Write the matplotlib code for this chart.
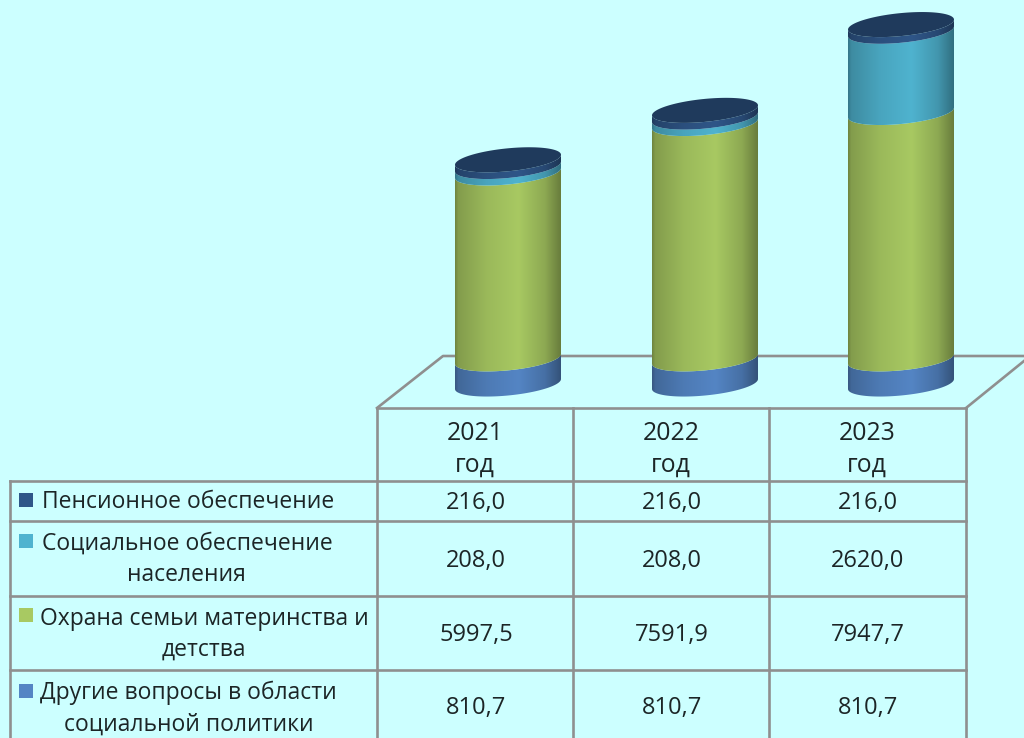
import matplotlib
matplotlib.use("Agg")
import matplotlib.pyplot as plt
from matplotlib.colors import to_rgb
from matplotlib.patches import Polygon
import numpy as np

years = ["2021\nгод", "2022\nгод", "2023\nгод"]
other = [810.7, 810.7, 810.7]
family = [5997.5, 7591.9, 7947.7]
social = [208.0, 208.0, 2620.0]
pension = [216.0, 216.0, 216.0]

series = [other, family, social, pension]
colors = ["#5485C4", "#A8C962", "#4FB3CF", "#2F5688"]
names = ["Другие вопросы в области\nсоциальной политики",
         "Охрана семьи материнства и\nдетства",
         "Социальное обеспечение\nнаселения",
         "Пенсионное обеспечение"]

bg = "#CCFFFF"
grid = "#8F8F8F"
txt = "#1C2526"

# everything is laid out in picture pixels
fig = plt.figure(figsize=(10.24, 7.38), dpi=100, facecolor=bg)
ax = fig.add_axes([0, 0, 1, 1])
ax.set_axis_off()

base_y = 384
scale = 0.031
half_w = 53
b = 11.5
tilt = 5
centers = [508, 705, 901]


def curve(cx, cy, t):
    return cx + half_w * np.cos(t), cy - b * np.sin(t) - tilt * np.cos(t)


def shade(color):
    # cylinder shading: dark at the rims, brightest a bit right of centre
    c = np.array(to_rgb(color))
    u = np.linspace(0, 1, 200)
    k = np.interp(u, [0, 0.03, 0.3, 0.6, 0.85, 1], [0.66, 0.78, 0.92, 1.0, 0.84, 0.62])
    return (c[None, :] * k[:, None])[None, :, :]


# floor
ax.plot([377, 443, 1024], [408, 356, 356], color=grid, lw=1.9, zorder=1)
ax.plot([966, 1024], [408, 361], color=grid, lw=1.9, zorder=1)

front = np.linspace(np.pi, 2 * np.pi, 80)
for i, cx in enumerate(centers):
    level = 0
    for vals, col in zip(series, colors):
        y0 = base_y - level * scale
        level += vals[i]
        y1 = base_y - level * scale
        xa, ya = curve(cx, y0, front)
        xb, yb = curve(cx, y1, front)
        pts = np.column_stack([np.r_[xa, xb[::-1]], np.r_[ya, yb[::-1]]])
        im = ax.imshow(shade(col), extent=[cx - half_w, cx + half_w, 738, 0],
                       aspect="auto", zorder=2, interpolation="bilinear")
        im.set_clip_path(Polygon(pts, transform=ax.transData))
    xc, yc = curve(cx, y1, np.linspace(0, 2 * np.pi, 160))
    ax.fill(xc, yc, color="#1F3A5C", lw=0, zorder=3)

# table grid
xs = [10, 377, 573, 769, 966]
ys = [408, 481, 521, 596, 670, 738]
ax.plot([377, 966], [ys[0], ys[0]], color=grid, lw=1.9, zorder=4)
for y in ys[1:5]:
    ax.plot([xs[0], xs[4]], [y, y], color=grid, lw=1.9, zorder=4)
ax.plot([xs[0], xs[0]], [ys[1], ys[5]], color=grid, lw=1.9, zorder=4)
for x in xs[1:]:
    ax.plot([x, x], [ys[0], ys[5]], color=grid, lw=1.9, zorder=4)

fs = 16.5
fs_num = 17
font = "Open Sans"
col_x = [476, 672, 868]
for x, label in zip(col_x, years):
    ax.text(x - 1, 449, label, ha="center", va="center", fontsize=17.8, family=font,
            color=txt, linespacing=1.35)

row_y = [708, 635, 561, 503]
for vals, y in zip(series, row_y):
    for x, v in zip(col_x, vals):
        ax.text(x, y, f"{v:.1f}".replace(".", ","), ha="center", va="center",
                fontsize=fs_num, family=font, color=txt)

# legend column: first line sits right of the key, second line is centred
first_x = [40, 40, 42, 42]
first_y = [693, 619, 544, 502]
key_y = [691, 615, 541, 500]
second_x = [189, 204, 186]
second_y = [725, 650, 575]
for j, name in enumerate(names):
    lines = name.split("\n")
    ax.text(first_x[j], first_y[j], lines[0], ha="left", va="center", fontsize=fs,
            family=font, color=txt)
    if len(lines) > 1:
        ax.text(second_x[j], second_y[j], lines[1], ha="center", va="center",
                fontsize=fs, family=font, color=txt)
    ax.fill([19, 33, 33, 19], [key_y[j] - 7, key_y[j] - 7, key_y[j] + 7, key_y[j] + 7],
            color=colors[j], lw=0, zorder=5)

ax.set_xlim(0, 1024)
ax.set_ylim(738, 0)
fig.savefig("out.png", dpi=100, facecolor=bg)
